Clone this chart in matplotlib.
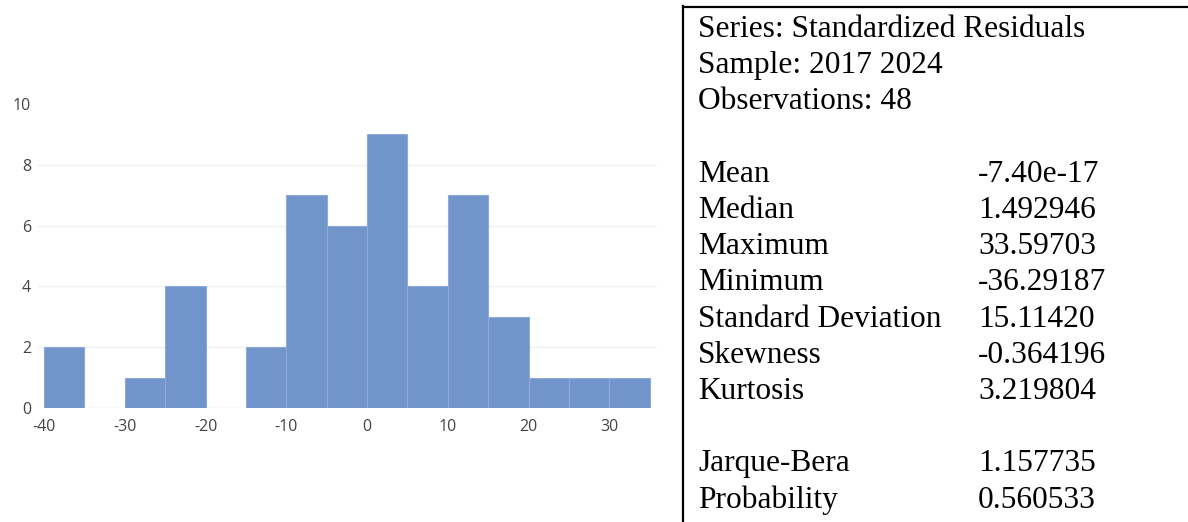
import matplotlib.pyplot as plt
import numpy as np

plt.rcParams['axes.unicode_minus'] = False

# histogram of residuals, bins of width 5
bin_edges = [-40, -35, -30, -25, -20, -15, -10, -5, 0, 5, 10, 15, 20, 25, 30, 35]
counts = [2, 0, 1, 4, 0, 2, 7, 6, 9, 4, 7, 3, 1, 1, 1]
xticks = [-40, -30, -20, -10, 0, 10, 20, 30]
yticks = [0, 2, 4, 6, 8, 10]

header = ['Series: Standardized Residuals', 'Sample: 2017 2024', 'Observations: 48']
stat_names = ['Mean', 'Median', 'Maximum', 'Minimum', 'Standard Deviation',
              'Skewness', 'Kurtosis']
stat_values = ['-7.40e-17', '1.492946', '33.59703', '-36.29187', '15.11420',
               '-0.364196', '3.219804']
test_names = ['Jarque-Bera', 'Probability']
test_values = ['1.157735', '0.560533']

W, H = 1188, 522
fig = plt.figure(figsize=(W / 100, H / 100), dpi=100)

# axes placed in pixel terms
left, right, bottom, top = 38, 657, 408, 104
ax = fig.add_axes([left / W, 1 - bottom / H, (right - left) / W, (bottom - top) / H])

widths = np.diff(bin_edges)
ax.bar(bin_edges[:-1], counts, width=widths, align='edge',
       color='#7194cb', edgecolor='#8eaad8', linewidth=0.8, zorder=2)

ax.set_xlim(-40.75, 35.9)
ax.set_ylim(0, 10)
ax.set_xticks(xticks)
ax.set_yticks(yticks)
ax.tick_params(length=0, labelsize=11.5, labelcolor='#444444')
ax.tick_params(axis='x', pad=8)
ax.tick_params(axis='y', pad=5)
for lab in ax.get_xticklabels() + ax.get_yticklabels():
    lab.set_family('Open Sans')
ax.grid(axis='y', color='#f0f0f0', linewidth=1, zorder=0)
ax.get_ygridlines()[-1].set_visible(False)
ax.get_ygridlines()[0].set_visible(False)
for s in ax.spines.values():
    s.set_visible(False)

# statistics panel
def fy(px):
    return 1 - px / H

fig.add_artist(plt.Line2D([683 / W, 683 / W], [fy(6), 0], color='black', lw=1.6))
fig.add_artist(plt.Line2D([683 / W, 1], [fy(7), fy(7)], color='black', lw=1.6))

font = dict(family='Liberation Serif', fontsize=22.6, va='baseline', color='black')
x_lab, x_val = 698 / W, 978 / W
step = 36.2
for i, t in enumerate(header):
    fig.text(x_lab, fy(37 + step * i), t, **font)
for i, (n, v) in enumerate(zip(stat_names, stat_values)):
    fig.text(x_lab, fy(37 + step * (i + 4)), n, **font)
    fig.text(x_val, fy(37 + step * (i + 4)), v, **font)
for i, (n, v) in enumerate(zip(test_names, test_values)):
    fig.text(x_lab, fy(37 + step * (i + 12)), n, **font)
    fig.text(x_val, fy(37 + step * (i + 12)), v, **font)

fig.savefig('out.png', dpi=100)
